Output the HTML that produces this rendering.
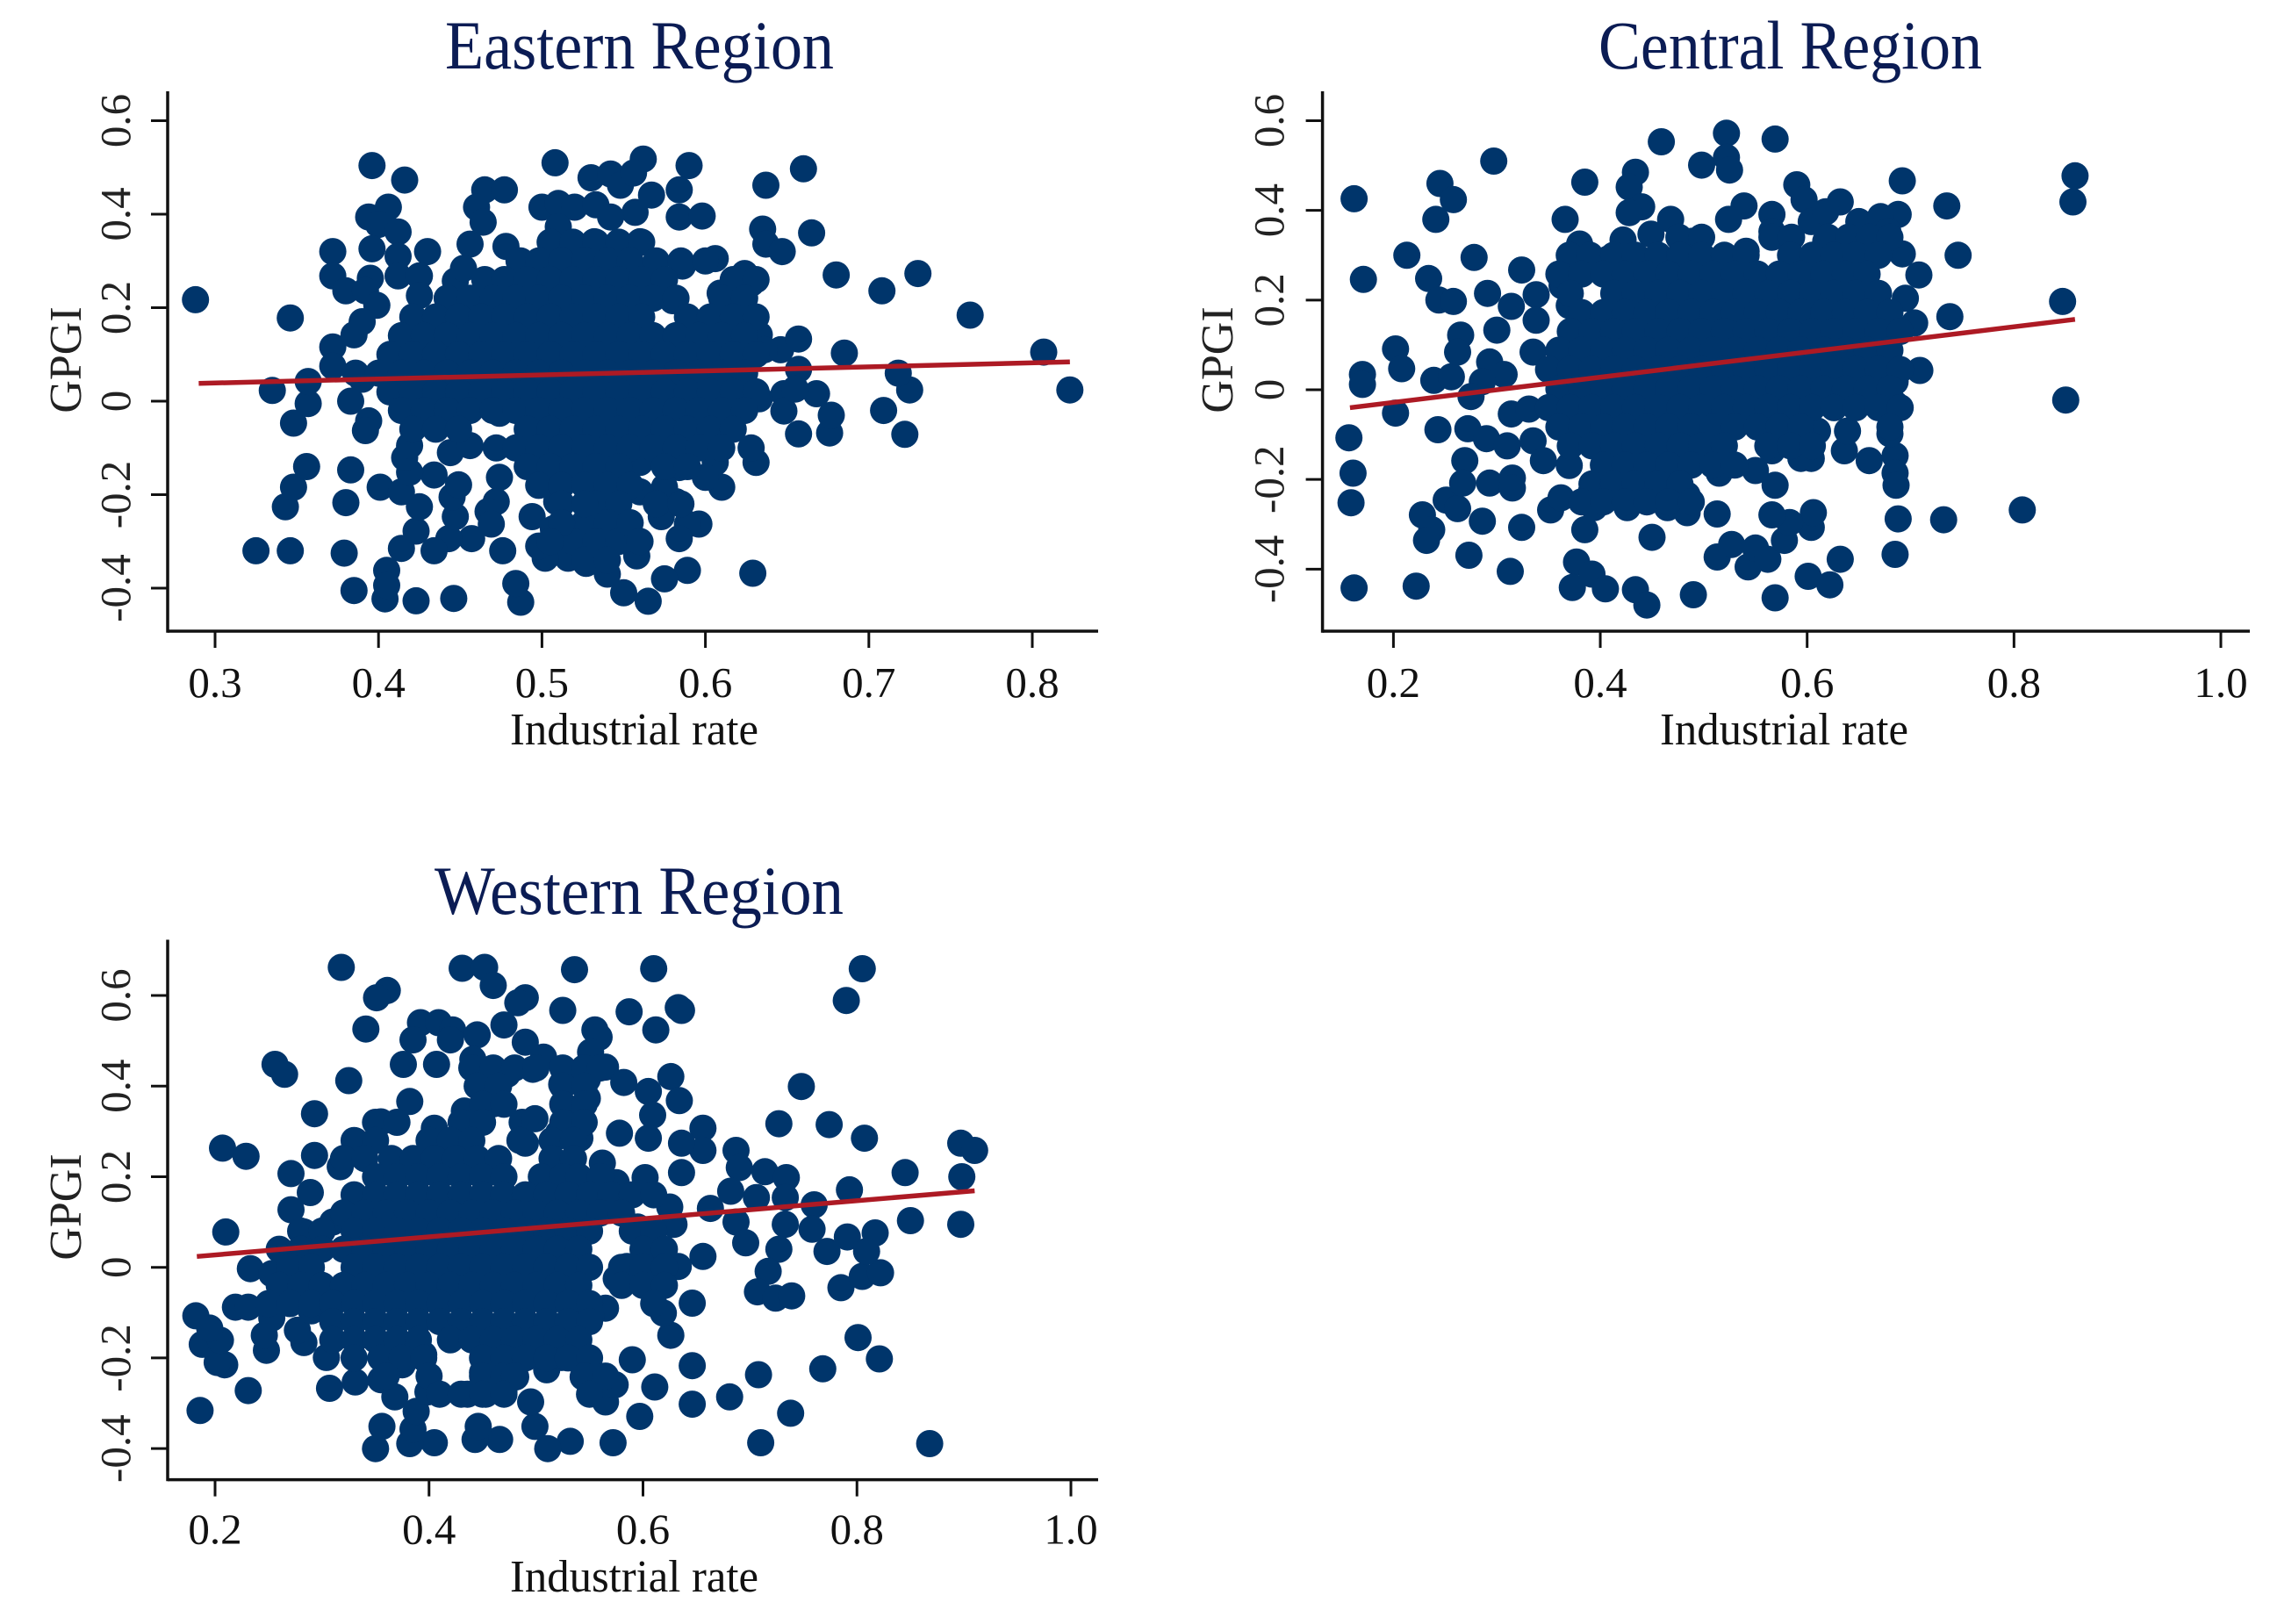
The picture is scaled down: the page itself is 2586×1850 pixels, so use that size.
<!DOCTYPE html>
<html lang="en">
<head>
<meta charset="utf-8">
<title>Industrial rate and GPGI by region</title>
<style>
html,body{margin:0;padding:0;background:#fff;}
svg{display:block;}
text{font-family:"Liberation Serif",serif;}
</style>
</head>
<body>
<svg id="figure" xmlns="http://www.w3.org/2000/svg" width="2586" height="1850" viewBox="0 0 2586 1850">
<rect x="0" y="0" width="2586" height="1850" fill="#ffffff"/>
</svg>
<script>
const easternX = [
.288,.346,.335,.396,.416,.508,.59,.562,.66,.637,
.665,.68,.708,.73,.762,.807,.823,.685,.722,.709,
.725,.718,.676,.657,.629,.589,.565,.55,.575,.54,
.487,.484,.446,.423,.404,.385,.325,.346,.379,.343,
.348,.356,.38,.383,.53,.542,.548,.556,.584,.567,
.584,.598,.557,.465,.477,.46,.464,.5,.51,.52,
.533,.542,.51,.532,.56,.406,.394,.4,.412,.396,
.372,.43,.456,.478,.372,.38,.395,.392,.412,.412,
.425,.425,.447,.452,.487,.507,.569,.586,.606,.624,
.628,.609,.58,.62,.628,.633,.646,.657,.657,.636,
.648,.668,.677,.648,.633,.655,.635,.637,.647,.631,
.628,.606,.61,.6,.584,.596,.589,.573,.584,.582,
.575,.56,.56,.547,.558,.527,.516,.502,.498,.507,
.494,.509,.502,.507,.494,.474,.472,.467,.469,.476,
.457,.443,.434,.447,.445,.434,.449,.414,.405,.405,
.423,.425,.401,.414,.419,.416,.419,.444,.456,.472,
.474,.348,.357,.394,.392,.383,.357,.372,.385,.399,
.39,.372,.39,
.505,.519,.533,.547,.561,
.486,.498,.512,.526,.54,.554,.57,.585,.6,
.465,.477,.491,.505,.519,.533,.547,.561,.575,.617,.631,
.442,.456,.47,.484,.498,.512,.526,.54,.554,.568,.582,.61,.624,
.421,.435,.449,.463,.477,.491,.505,.519,.533,.547,.561,.589,.603,.617,.631,
.414,.428,.442,.456,.47,.484,.498,.512,.526,.54,.554,.568,.582,.596,.61,.624,
.407,.421,.435,.449,.463,.477,.491,.505,.519,.533,.547,.561,.575,.589,.603,.617,.631,
.386,.4,.414,.428,.442,.456,.47,.484,.498,.512,.526,.54,.554,.568,.582,.596,.61,.624,
.407,.421,.435,.449,.463,.477,.491,.505,.519,.533,.547,.561,.575,.589,.603,.617,.631,
.414,.428,.442,.456,.47,.484,.498,.512,.526,.54,.554,.568,.582,.596,.61,.624,
.421,.435,.449,.491,.505,.519,.533,.547,.561,.575,.589,.603,.617,
.484,.498,.512,.526,.54,.554,.568,.582,.596,.61,
.491,.505,.519,.533,.547,.575,.589,
.498,.512,.526,.54,.554,
.533,.547,.57,.585,
.526,.54,
.519,.533,.547,
.526,.54,
.512,.526,.512,.554,.505,.56
];
const easternY = [
.217,.178,.023,.504,.473,.51,.504,.518,.497,.462,
.36,.27,.236,.273,.184,.105,.024,.103,-.071,-.02,
.024,.06,-.068,-.07,-.368,-.362,-.428,-.41,-.38,-.37,
-.43,-.39,-.422,-.427,-.423,-.405,-.32,-.32,-.325,-.226,
-.184,-.14,-.217,-.147,.478,.486,.462,.488,.452,.441,
.394,.396,.404,.452,.452,.415,.383,.415,.423,.415,
.42,.394,.373,.341,.341,.415,.394,.378,.362,.326,
.32,.32,.336,.331,.268,.236,.263,.236,.31,.268,
.268,.226,.257,.284,.3,.331,.289,.289,.305,.273,
.252,.231,.215,.215,.173,.142,.11,.133,.068,.11,
.016,.016,-.03,-.021,.005,.026,.368,.336,.32,-.131,
-.1,-.131,-.184,-.163,-.142,-.263,-.263,-.247,-.294,-.215,
-.184,-.194,-.131,-.289,-.331,-.347,-.336,-.336,-.31,-.273,
-.247,-.215,-.163,-.121,-.11,-.163,-.215,-.236,-.263,-.32,
-.294,-.294,-.32,-.247,-.205,-.158,-.179,-.315,-.362,-.394,
-.278,-.226,-.184,-.194,-.152,-.121,-.095,-.11,-.095,-.1,
-.026,-.047,-.005,-.042,-.063,0,.042,.116,.142,.205,
.17,.075,.047,
.34,.34,.34,.34,.34,
.3,.3,.3,.3,.3,.3,.3,.3,.3,
.26,.26,.26,.26,.26,.26,.26,.26,.26,.26,.26,
.22,.22,.22,.22,.22,.22,.22,.22,.22,.22,.22,.22,.22,
.18,.18,.18,.18,.18,.18,.18,.18,.18,.18,.18,.18,.18,.18,.18,
.14,.14,.14,.14,.14,.14,.14,.14,.14,.14,.14,.14,.14,.14,.14,.14,
.1,.1,.1,.1,.1,.1,.1,.1,.1,.1,.1,.1,.1,.1,.1,.1,.1,
.06,.06,.06,.06,.06,.06,.06,.06,.06,.06,.06,.06,.06,.06,.06,.06,.06,.06,
.02,.02,.02,.02,.02,.02,.02,.02,.02,.02,.02,.02,.02,.02,.02,.02,.02,
-.02,-.02,-.02,-.02,-.02,-.02,-.02,-.02,-.02,-.02,-.02,-.02,-.02,-.02,-.02,-.02,
-.06,-.06,-.06,-.06,-.06,-.06,-.06,-.06,-.06,-.06,-.06,-.06,-.06,
-.1,-.1,-.1,-.1,-.1,-.1,-.1,-.1,-.1,-.1,
-.14,-.14,-.14,-.14,-.14,-.14,-.14,
-.18,-.18,-.18,-.18,-.18,
-.22,-.22,-.22,-.22,
-.26,-.26,
-.3,-.3,-.3,
-.34,-.34,
-.22,-.22,-.26,-.26,-.3,-.3
];

const centralX = [
.162,.171,.213,.297,.245,.258,.241,.278,.234,.244,
.258,.324,.291,.338,.314,.3,.265,.202,.208,.17,
.17,.239,.256,.262,.202,.243,.157,.161,.159,.162,
.222,.228,.237,.232,.251,.262,.273,.286,.313,.324,
.269,.267,.293,.315,.315,.352,.362,.385,.377,.373,
.392,.405,.434,.445,.45,.49,.513,.513,.527,.543,
.55,.562,.578,.569,.601,.622,.632,.604,.606,.583,
.566,.569,.55,.685,.688,.732,.808,.85,.847,.857,
.859,.738,.746,.735,.692,.709,.704,.708,.695,.692,
.688,.522,.569,.459,.498,.522,.525,.385,.434,.428,
.59,.597,.539,.366,.44,.428,.468,.449,.38,.422,
.524,.566,.566,.604,.632,.618,.65,.671,.618,.678,
.489,.541,.377,.408,.363,.338,.335,.293,.307,.286,
.275,.272,.29,.31,.335,.345,.37,.314,.331,.37,
.391,.394,.426,.465,.484,.484,.52,.515,.566,.594,
.604,.61,.636,.639,.66,.685,.685,.686,.68,.685,
.685,
.476,.498,.566,.585,.62,.64,.66,.68,
.37,.39,.413,.434,.456,.477,.498,.52,.541,.584,.605,.626,.647,.669,
.36,.382,.403,.424,.445,.466,.488,.509,.53,.552,.573,.594,.616,.637,.658,
.371,.413,.434,.456,.477,.498,.52,.541,.562,.584,.605,.626,.647,.669,
.382,.403,.424,.445,.466,.488,.509,.53,.552,.573,.594,.616,.637,.658,.68,
.371,.392,.413,.434,.456,.477,.498,.52,.541,.562,.584,.605,.626,.647,.669,.69,
.36,.382,.403,.424,.445,.466,.488,.509,.53,.552,.573,.594,.616,.637,.658,.68,
.35,.371,.392,.413,.434,.456,.477,.498,.52,.541,.562,.584,.605,.626,.647,.669,.69,
.36,.382,.403,.424,.445,.466,.488,.509,.53,.552,.573,.594,.616,.637,.658,.68,
.35,.371,.392,.413,.434,.456,.477,.498,.52,.541,.562,.584,.605,.626,.647,.669,.69,
.36,.382,.403,.424,.445,.466,.488,.509,.53,.552,.573,.594,.68,
.371,.392,.413,.434,.456,.477,.498,.52,.562,.584,.605,
.403,.424,.445,.466,.488,.509,.53,
.392,.413,.434,.456,.477,
.382,.403,.424,.445,.466,.488
];
const centralY = [
.426,.246,.3,.51,.46,.424,.38,.295,.248,.2,
.197,.267,.215,.212,.186,.133,.122,.091,.047,.034,
.012,.021,.029,.084,-.052,-.089,-.107,-.186,-.252,-.442,
-.438,-.279,-.312,-.336,-.246,-.265,-.369,-.293,-.405,-.307,
-.158,-.208,-.208,-.197,-.219,-.268,-.241,-.312,-.384,-.441,
-.411,-.444,-.446,-.48,-.329,-.457,-.277,-.373,-.345,-.395,
-.353,-.378,-.336,-.464,-.416,-.435,-.378,-.307,-.274,-.296,
-.279,-.213,-.18,-.367,-.288,-.29,-.268,-.023,.197,.419,
.477,.163,.3,.41,.466,.043,.149,.256,.204,.303,
.391,.572,.559,.553,.501,.518,.49,.463,.485,.452,
.457,.424,.41,.38,.408,.395,.38,.347,.325,.334,
.38,.391,.353,.375,.419,.397,.375,.386,.331,.353,
.331,.309,.292,.292,.232,.155,.084,.062,.034,.018,
-.015,-.087,-.109,-.125,-.114,-.158,-.169,-.054,-.043,.188,
-.23,-.263,-.263,-.263,-.274,-.235,-.158,-.186,-.136,-.153,
-.153,-.092,-.136,-.092,-.158,-.147,-.186,-.213,-.098,-.032,
.018,
.34,.34,.34,.34,.34,.34,.34,.34,
.3,.3,.3,.3,.3,.3,.3,.3,.3,.3,.3,.3,.3,.3,
.258,.258,.258,.258,.258,.258,.258,.258,.258,.258,.258,.258,.258,.258,.258,
.215,.215,.215,.215,.215,.215,.215,.215,.215,.215,.215,.215,.215,.215,
.172,.172,.172,.172,.172,.172,.172,.172,.172,.172,.172,.172,.172,.172,.172,
.13,.13,.13,.13,.13,.13,.13,.13,.13,.13,.13,.13,.13,.13,.13,.13,
.088,.088,.088,.088,.088,.088,.088,.088,.088,.088,.088,.088,.088,.088,.088,.088,
.045,.045,.045,.045,.045,.045,.045,.045,.045,.045,.045,.045,.045,.045,.045,.045,.045,
.002,.002,.002,.002,.002,.002,.002,.002,.002,.002,.002,.002,.002,.002,.002,.002,
-.04,-.04,-.04,-.04,-.04,-.04,-.04,-.04,-.04,-.04,-.04,-.04,-.04,-.04,-.04,-.04,-.04,
-.083,-.083,-.083,-.083,-.083,-.083,-.083,-.083,-.083,-.083,-.083,-.083,-.083,
-.125,-.125,-.125,-.125,-.125,-.125,-.125,-.125,-.125,-.125,-.125,
-.168,-.168,-.168,-.168,-.168,-.168,-.168,
-.21,-.21,-.21,-.21,-.21,
-.25,-.25,-.25,-.25,-.25,-.25
];

const westernX = [
.318,.431,.452,.536,.61,.805,.46,.79,.361,.351,
.49,.483,.525,.587,.633,.636,.612,.555,.559,.47,
.341,.392,.409,.422,.385,.445,.42,.49,.256,.265,
.325,.376,.407,.441,.507,.497,.551,.565,.582,.626,
.605,.609,.634,.748,.727,.774,.807,.293,.382,.433,
.487,.499,.49,.355,.331,.207,.229,.293,.271,.289,
.271,.317,.21,.283,.31,.687,.69,.656,.656,.636,
.605,.578,.714,.734,.682,.706,.733,.76,.845,.793,
.897,.91,.898,.897,.85,.817,.791,.758,.733,.687,
.696,.656,.663,.772,.727,.717,.707,.724,.739,.785,
.805,.822,.809,.801,.821,.768,.708,.681,.646,.646,
.738,.71,.868,.611,.597,.572,.59,.532,.511,.466,
.443,.446,.499,.495,.565,.574,.544,.544,.51,.524,
.436,.453,.47,.481,.46,.45,.405,.382,.35,.356,
.385,.388,.399,.368,.355,.331,.307,.304,.395,.375,
.186,.231,.209,.202,.188,.205,.182,.195,.219,.231,
.248,.246,.253,.283,.277,.233,.253,.266,.27,.29,
.646,.626,.619,.633,.616,.575,.585,.595,.612,.629,
.625,.636,.602,.575,.562,.565,.551,.527,.524,.548,
.548,.534,.521,.541,.46,.473,.45,.46,.446,.433,
.405,
.44,.46,.48,.5,.525,.545,.56,
.445,.465,.525,.545,
.45,.47,.525,.545,
.35,.37,.43,.45,.525,.545,
.33,.35,.4,.42,.44,.485,.515,.535,
.32,.34,.365,.385,.405,.425,.445,.465,.515,.535,
.35,.37,.39,.41,.43,.45,.47,.505,.525,.54,.56,
.33,.35,.37,.39,.41,.43,.45,.47,.49,.51,.53,.55,.57,.59,.61,
.32,.34,.36,.38,.4,.42,.44,.46,.48,.5,.52,.54,.56,.58,
.28,.3,.33,.35,.37,.39,.41,.43,.45,.47,.49,.51,.53,.55,.59,.61,
.26,.28,.3,.32,.34,.36,.38,.4,.42,.44,.46,.48,.5,.52,.54,.6,.62,
.27,.29,.33,.35,.37,.39,.41,.43,.45,.47,.49,.51,.53,.55,.58,.6,.62,
.26,.28,.3,.32,.34,.36,.38,.4,.42,.44,.46,.48,.5,.52,.54,.58,.6,.62,
.25,.27,.29,.31,.33,.35,.37,.39,.41,.43,.45,.47,.49,.51,.53,.55,.61,
.31,.33,.35,.37,.39,.41,.43,.45,.47,.49,.51,.53,.55,
.31,.33,.35,.37,.39,.42,.44,.46,.48,.5,.52,.54,
.33,.355,.375,.395,.45,.47,.49,.51,.53,.55,
.36,.4,.45,.47,.48,.545,.565,
.41,.43,.45,.47,.55
];
const westernY = [
.662,.66,.662,.657,.659,.659,.622,.589,.611,.595,
.595,.584,.567,.564,.573,.567,.524,.524,.508,.535,
.526,.54,.54,.524,.502,.513,.502,.497,.448,.426,
.412,.448,.448,.459,.464,.437,.475,.442,.408,.421,
.388,.336,.368,.399,.317,.315,.285,.339,.366,.345,
.32,.328,.274,.321,.279,.263,.245,.247,.207,.165,
.127,.222,.078,.078,.1,.258,.22,.307,.258,.274,
.285,.296,.211,.198,.168,.154,.154,.138,.209,.171,
.274,.258,.2,.095,.103,.076,.067,.084,.095,.1,
.054,.024,.13,.035,.04,-.009,-.054,-.068,-.063,-.045,
-.02,-.012,.035,-.155,-.202,-.224,-.237,-.286,-.302,-.217,
-.322,-.387,-.389,-.264,-.329,-.387,-.204,-.384,-.4,-.38,
-.38,-.351,-.351,-.297,-.297,-.259,-.242,-.199,-.226,-.199,
-.28,-.28,-.275,-.242,-.183,-.232,-.387,-.389,-.4,-.351,
-.357,-.318,-.275,-.286,-.248,-.253,-.267,-.199,-.193,-.215,
-.316,-.272,-.215,-.21,-.17,-.161,-.107,-.134,-.088,-.088,
-.183,-.15,-.112,-.166,-.139,-.003,-.014,-.052,.029,-.096,
-.079,-.15,-.101,.002,-.02,-.025,.002,.089,.046,.095,
.133,.209,.198,.187,.23,-.09,-.107,.426,.404,.415,
.373,.339,.296,.285,.415,.426,.393,.361,.317,.285,
.307,
.44,.44,.44,.44,.44,.44,.44,
.4,.4,.4,.4,
.36,.36,.36,.36,
.32,.32,.32,.32,.32,.32,
.28,.28,.28,.28,.28,.28,.28,.28,
.24,.24,.24,.24,.24,.24,.24,.24,.24,.24,
.2,.2,.2,.2,.2,.2,.2,.2,.2,.2,.2,
.16,.16,.16,.16,.16,.16,.16,.16,.16,.16,.16,.16,.16,.16,.16,
.12,.12,.12,.12,.12,.12,.12,.12,.12,.12,.12,.12,.12,.12,
.08,.08,.08,.08,.08,.08,.08,.08,.08,.08,.08,.08,.08,.08,.08,.08,
.04,.04,.04,.04,.04,.04,.04,.04,.04,.04,.04,.04,.04,.04,.04,.04,.04,
0,0,0,0,0,0,0,0,0,0,0,0,0,0,0,0,0,
-.04,-.04,-.04,-.04,-.04,-.04,-.04,-.04,-.04,-.04,-.04,-.04,-.04,-.04,-.04,-.04,-.04,-.04,
-.08,-.08,-.08,-.08,-.08,-.08,-.08,-.08,-.08,-.08,-.08,-.08,-.08,-.08,-.08,-.08,-.08,
-.12,-.12,-.12,-.12,-.12,-.12,-.12,-.12,-.12,-.12,-.12,-.12,-.12,
-.16,-.16,-.16,-.16,-.16,-.16,-.16,-.16,-.16,-.16,-.16,-.16,
-.2,-.2,-.2,-.2,-.2,-.2,-.2,-.2,-.2,-.2,
-.24,-.24,-.24,-.24,-.24,-.24,-.24,
-.28,-.28,-.28,-.28,-.28
];

const easternFitX = [.29,.823];
const easternFitY = [.038,.084];
const centralFitX = [.158,.859];
const centralFitY = [-.04,.157];
const westernFitX = [.183,.91];
const westernFitY = [.024,.169];

const easternXTicks = [.3,.4,.5,.6,.7,.8];
const easternXTickLabels = ['0.3','0.4','0.5','0.6','0.7','0.8'];
const sharedXTicks = [.2,.4,.6,.8,1];
const sharedXTickLabels = ['0.2','0.4','0.6','0.8','1.0'];
const yTicks = [-.4,-.2,0,.2,.4,.6];
const yTickLabels = ['-0.4','-0.2','0','0.2','0.4','0.6'];

const svgNS = 'http://www.w3.org/2000/svg';
const figure = document.getElementById('figure');

function linearScale(v0, p0, v1, p1) {
  return function (v) { return p0 + (v - v0) * (p1 - p0) / (v1 - v0); };
}
function node(tag, parent, attrs) {
  const el = document.createElementNS(svgNS, tag);
  for (const k in attrs) el.setAttribute(k, attrs[k]);
  parent.appendChild(el);
  return el;
}

function drawPanel(slug, title, xs, ys, fitX, fitY, xTicks, xTickLabels, frame) {
  const xScale = linearScale(frame.xv0, frame.xp0, frame.xv1, frame.xp1);
  const yScale = linearScale(frame.yv0, frame.yp0, frame.yv1, frame.yp1);

  const panel = node('g', figure, {});
  
  

  const dots = node('g', panel, { fill: '#00356b' });
  
  
  const n = Math.min(xs.length, ys.length);
  for (let i = 0; i < n; i++) {
    const c = node('circle', dots, { cx: xScale(xs[i]).toFixed(1), cy: yScale(ys[i]).toFixed(1), r: 15.5 });
    
    
  }

  const fit = node('line', panel, {
    x1: xScale(fitX[0]), y1: yScale(fitY[0]), x2: xScale(fitX[1]), y2: yScale(fitY[1]),
    stroke: '#ad1a24', 'stroke-width': 5.5
  });
  
  

  const xAxis = node('line', panel, { x1: frame.left, y1: frame.bottom, x2: frame.right, y2: frame.bottom, stroke: '#111', 'stroke-width': 3.5 });
  
  
  const yAxis = node('line', panel, { x1: frame.left, y1: frame.top, x2: frame.left, y2: frame.bottom + 1.7, stroke: '#111', 'stroke-width': 3.5 });
  
  

  xTicks.forEach(function (t, i) {
    const px = xScale(t);
    const tick = node('line', panel, { x1: px, y1: frame.bottom, x2: px, y2: frame.bottom + 19, stroke: '#111', 'stroke-width': 3 });
    
    
    const label = node('text', panel, { x: px, y: frame.xLabelBase, 'text-anchor': 'middle', 'font-size': 49, fill: '#111' });
    
    
    label.textContent = xTickLabels[i];
  });

  yTicks.forEach(function (t, i) {
    const py = yScale(t);
    const tick = node('line', panel, { x1: frame.left - 19, y1: py, x2: frame.left, y2: py, stroke: '#111', 'stroke-width': 3 });
    
    
    const label = node('text', panel, { x: frame.yLabelBase, y: py, 'text-anchor': 'middle', 'font-size': 49, fill: '#222', transform: 'rotate(-90 ' + frame.yLabelBase + ' ' + py + ')' });
    
    
    label.textContent = yTickLabels[i];
  });

  const titleEl = node('text', panel, { x: frame.titleX, y: frame.titleBase, 'font-size': 78, fill: '#0b1c54', textLength: frame.titleWidth, lengthAdjust: 'spacingAndGlyphs' });
  
  
  titleEl.textContent = title;

  const xTitle = node('text', panel, { x: frame.xTitleX, y: frame.xTitleBase, 'font-size': 52, fill: '#111', textLength: 283, lengthAdjust: 'spacingAndGlyphs' });
  
  
  xTitle.textContent = 'Industrial rate';

  const yTitle = node('text', panel, { x: frame.yTitleBase, y: frame.yTitleY, 'text-anchor': 'middle', 'font-size': 52, fill: '#222', transform: 'rotate(-90 ' + frame.yTitleBase + ' ' + frame.yTitleY + ')' });
  
  
  yTitle.textContent = 'GPGI';
}

drawPanel('eastern-region', 'Eastern Region', easternX, easternY, easternFitX, easternFitY, easternXTicks, easternXTickLabels, {
  xv0: .3, xp0: 245, xv1: .8, xp1: 1176, yv0: 0, yp0: 457, yv1: .6, yp1: 137.5,
  left: 191, right: 1251, top: 104, bottom: 719, xLabelBase: 794, yLabelBase: 148,
  titleX: 507, titleWidth: 443, titleBase: 78, xTitleX: 581, xTitleBase: 848, yTitleBase: 92, yTitleY: 410
});
drawPanel('central-region', 'Central Region', centralX, centralY, centralFitX, centralFitY, sharedXTicks, sharedXTickLabels, {
  xv0: .2, xp0: 1587.4, xv1: 1, xp1: 2530, yv0: 0, yp0: 444, yv1: .6, yp1: 137.5,
  left: 1506.6, right: 2563, top: 104, bottom: 719, xLabelBase: 794, yLabelBase: 1462,
  titleX: 1821, titleWidth: 437, titleBase: 78, xTitleX: 1891, xTitleBase: 848, yTitleBase: 1404, yTitleY: 410
});
drawPanel('western-region', 'Western Region', westernX, westernY, westernFitX, westernFitY, sharedXTicks, sharedXTickLabels, {
  xv0: .2, xp0: 245, xv1: 1, xp1: 1220, yv0: 0, yp0: 1443.7, yv1: .6, yp1: 1134,
  left: 191, right: 1251, top: 1070.5, bottom: 1685.6, xLabelBase: 1758.5, yLabelBase: 148,
  titleX: 495, titleWidth: 466, titleBase: 1041, xTitleX: 581, xTitleBase: 1813, yTitleBase: 92, yTitleY: 1375
});
</script>
</body>
</html>
